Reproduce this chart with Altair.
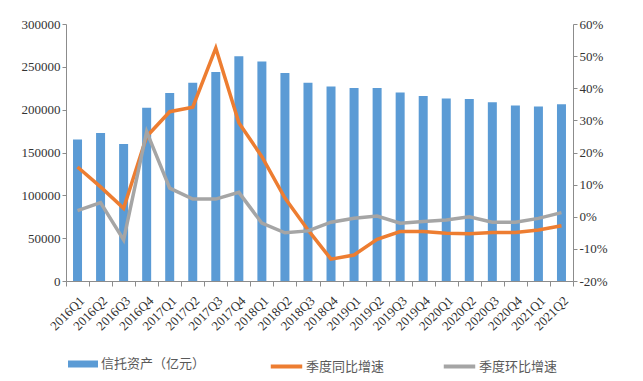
import altair as alt
import pandas as pd

quarters = ["2016Q1", "2016Q2", "2016Q3", "2016Q4", "2017Q1", "2017Q2", "2017Q3", "2017Q4",
            "2018Q1", "2018Q2", "2018Q3", "2018Q4", "2019Q1", "2019Q2", "2019Q3", "2019Q4",
            "2020Q1", "2020Q2", "2020Q3", "2020Q4", "2021Q1", "2021Q2"]
assets = [165200, 172900, 160000, 202200, 219400, 231400, 244100, 262500,
          256100, 242700, 231400, 227000, 225300, 225400, 219900, 216000,
          213000, 212400, 208600, 204900, 203800, 206400]
yoy = [0.155, 0.093, 0.026, 0.250, 0.327, 0.341, 0.525, 0.293,
       0.187, 0.058, -0.041, -0.132, -0.119, -0.070, -0.046, -0.046,
       -0.051, -0.053, -0.049, -0.049, -0.041, -0.028]
qoq = [0.019, 0.044, -0.072, 0.265, 0.089, 0.055, 0.055, 0.076,
       -0.020, -0.050, -0.044, -0.017, -0.005, 0.002, -0.020, -0.015,
       -0.010, 0.000, -0.017, -0.017, -0.005, 0.013]

bar_name = "信托资产（亿元）"
yoy_name = "季度同比增速"
qoq_name = "季度环比增速"

bar_df = pd.DataFrame({"quarter": quarters, "value": assets, "series": bar_name})
yoy_df = pd.DataFrame({"quarter": quarters, "value": yoy, "series": yoy_name})
qoq_df = pd.DataFrame({"quarter": quarters, "value": qoq, "series": qoq_name})

serif = "'Liberation Serif', 'Times New Roman', serif"
cjk = "Noto Sans CJK SC"
axis_color = "#8c8c8c"

x = alt.X("quarter:N", sort=quarters, title=None,
          scale=alt.Scale(paddingInner=0.0, paddingOuter=0.0),
          axis=alt.Axis(labelAngle=-45, labelFont=serif, labelFontSize=13, labelColor="#333333",
                        domainColor=axis_color, tickColor=axis_color, tickBand="extent",
                        tickSize=5, labelPadding=8, grid=False))

y_right = alt.Y("value:Q", title=None,
                scale=alt.Scale(domain=[-0.2, 0.6], nice=False),
                axis=alt.Axis(orient="right", values=[-0.2, -0.1, 0, 0.1, 0.2, 0.3, 0.4, 0.5, 0.6],
                              format=".0%", labelExpr="replace(datum.label, '−', '-')",
                              labelFont=serif, labelFontSize=13, labelColor="#333333",
                              domainColor=axis_color, tickColor=axis_color, tickSize=4,
                              grid=False))


def line_legend(lx):
    return alt.Legend(title=None, orient="none", legendX=lx, legendY=330,
                      symbolType="M-1.5,0H1.5", symbolSize=440,
                      symbolStrokeWidth=4, labelLimit=300,
                      labelFont=cjk, labelFontSize=13, labelColor="#595959",
                      labelOffset=7)


bars = alt.Chart(bar_df).mark_bar(size=9).encode(
    x=x,
    y=alt.Y("value:Q", title=None,
            scale=alt.Scale(domain=[0, 300000], nice=False),
            axis=alt.Axis(values=[0, 50000, 100000, 150000, 200000, 250000, 300000],
                          labelFont=serif, labelFontSize=13, labelColor="#333333",
                          domainColor=axis_color, tickColor=axis_color, tickSize=4,
                          grid=False, format="d")),
    fill=alt.Fill("series:N", scale=alt.Scale(domain=[bar_name], range=["#5B9BD5"]),
                  legend=alt.Legend(title=None, orient="none", legendX=7, legendY=330,
                                    symbolType="M-1.5,-0.35H1.5V0.35H-1.5Z", symbolSize=400,
                                    symbolStrokeWidth=0, labelLimit=300,
                                    labelFont=cjk, labelFontSize=13, labelColor="#595959",
                                    labelOffset=8)),
)

yoy_line = alt.Chart(yoy_df).mark_line(strokeWidth=3.5).encode(
    x=x,
    y=y_right,
    stroke=alt.Stroke("series:N", scale=alt.Scale(domain=[yoy_name], range=["#ED7D31"]),
                      legend=line_legend(208)),
)

qoq_line = alt.Chart(qoq_df).mark_line(strokeWidth=3.5).encode(
    x=x,
    y=y_right,
    color=alt.Color("series:N", scale=alt.Scale(domain=[qoq_name], range=["#A5A5A5"]),
                    legend=line_legend(381)),
)

lines = alt.layer(yoy_line, qoq_line)

chart = alt.layer(bars, lines).resolve_scale(
    y="independent", fill="independent", stroke="independent", color="independent"
).properties(
    width=507, height=257,
    autosize=alt.AutoSizeParams(type="none"),
    padding={"left": 58, "top": 16, "right": 62, "bottom": 92},
).configure_view(stroke=None)

chart.save("out.html", embed_options={"renderer": "svg", "actions": False})
